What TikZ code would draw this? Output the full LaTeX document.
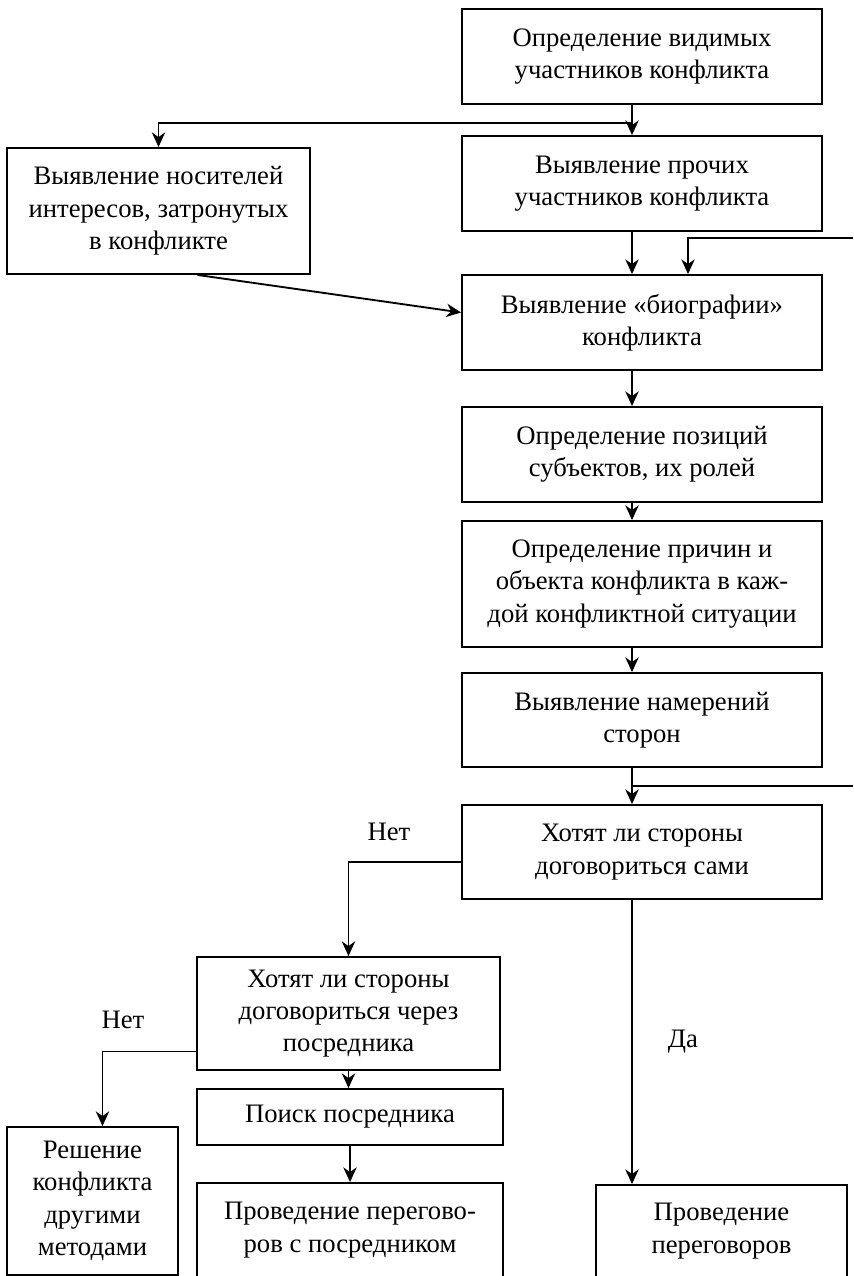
\documentclass[tikz,border=0pt]{standalone}
\usepackage{fontspec}
\setmainfont{Liberation Serif}
\usetikzlibrary{arrows.meta,calc,positioning}

\begin{document}
\begin{tikzpicture}[x=0.75pt,y=-0.75pt,
    blk/.style={draw, line width=1.4pt, align=center, inner sep=0pt,
      font=\fontsize{20}{24.3}\selectfont},
    arr/.style={line width=1.4pt, -{Stealth[length=11pt,width=10pt,inset=3.5pt]}},
    lbl/.style={font=\fontsize{20}{24.3}\selectfont}]
    \useasboundingbox (0,0) rectangle (853,1276);
    \clip (0,0) rectangle (853,1276);
    % main column
    \node[blk, minimum width=270pt, minimum height=71.25pt] (b1) at (642,56.5)
      {Определение видимых\\участников конфликта};
    \node[blk, minimum width=270pt, minimum height=71.25pt] (b2) at (642,183.5)
      {Выявление прочих\\участников конфликта};
    \node[blk, minimum width=227.25pt, minimum height=94.5pt] (lb) at (158.5,211)
      {Выявление носителей\\интересов, затронутых\\в конфликте};
    \node[blk, minimum width=270pt, minimum height=71.25pt] (b3) at (642,322.5)
      {Выявление «биографии»\\конфликта};
    \node[blk, minimum width=270pt, minimum height=71.25pt] (b4) at (642,454.5)
      {Определение позиций\\субъектов, их ролей};
    \node[blk, minimum width=270pt, minimum height=94.5pt] (b5) at (642,584)
      {Определение причин и\\объекта конфликта в каж-\\дой конфликтной ситуации};
    \node[blk, minimum width=270pt, minimum height=70.5pt] (b6) at (642,720)
      {Выявление намерений\\сторон};
    \node[blk, minimum width=270pt, minimum height=70.5pt] (b7) at (642,852)
      {Хотят ли стороны\\договориться сами};
    % lower branches
    \node[blk, minimum width=227.25pt, minimum height=84.75pt] (b8) at (348.5,1013.5)
      {Хотят ли стороны\\договориться через\\посредника};
    \node[blk, minimum width=229.5pt, minimum height=42pt] (b10) at (350,1117)
      {Поиск посредника};
    \node[blk, minimum width=229.5pt, minimum height=70.5pt] (b11) at (350,1230)
      {Проведение перегово-\\ров с посредником};
    \node[blk, minimum width=188.25pt, minimum height=69pt] (b12) at (721.5,1231)
      {Проведение\\переговоров};
    \node[blk, minimum width=128.25pt, minimum height=111pt] (b9) at (92.5,1201)
      {Решение\\конфликта\\другими\\методами};
    % labels
    \node[lbl] (no1) at (389,832) {Нет};
    \node[lbl] (no2) at (123,1020) {Нет};
    \node[lbl] (yes) at (683,1042) {Да};
    % connectors
    \coordinate (axis) at (632,0);
    \coordinate (split1) at (632,123);
    \coordinate (fb1) at (853,238);
    \coordinate (fb2) at (853,786);
    \draw[arr] (b1.south -| axis) -- (b2.north -| axis);
    \draw[arr] (split1) -| (lb.north);
    \draw[arr] (b2.south -| axis) -- (b3.north -| axis);
    \draw[arr] (fb1) -| ($(b3.north)+(46,0)$);
    \draw[arr] ($(lb.south)+(39,0)$) -- ($(b3.west)+(0,-10)$);
    \draw[arr] (b3.south -| axis) -- (b4.north -| axis);
    \draw[arr] (b4.south -| axis) -- (b5.north -| axis);
    \draw[arr] (b5.south -| axis) -- (b6.north -| axis);
    \draw[arr] (b6.south -| axis) -- (b7.north -| axis);
    \draw[line width=1pt] (fb2) -- (fb2 -| axis);
    \draw[arr] ($(b7.west)+(0,10)$) -| (b8.north);
    \draw[arr] (b7.south -| axis) -- (b12.north -| axis);
    \draw[arr] (b8.south) -- (b8.south |- b10.north);
    \draw[arr] (b10.south) -- (b11.north);
    \draw[arr] ($(b8.west)+(0,38)$) -| ($(b9.north)+(10,0)$);
\end{tikzpicture}
\end{document}
